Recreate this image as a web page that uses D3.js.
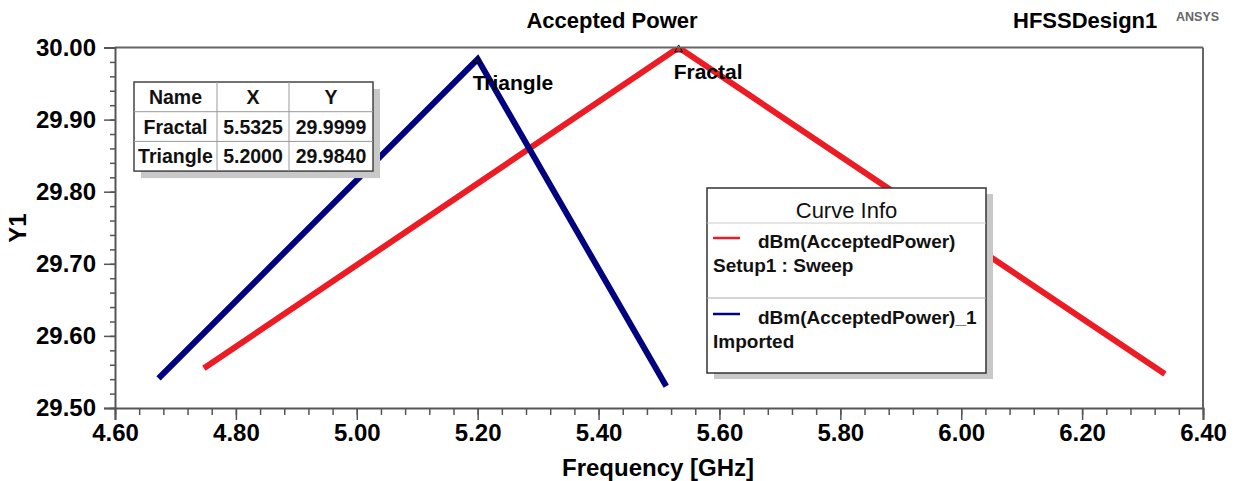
<!DOCTYPE html>
<html>
<head>
<meta charset="utf-8">
<script src="https://cdn.jsdelivr.net/npm/d3@7"></script>
<style>
  html, body { margin: 0; padding: 0; background: #fff; }
  svg { display: block; }
</style>
</head>
<body>
<svg id="chart" width="1236" height="481"></svg>
<script>
// ---- data ----
const title = "Accepted Power";
const designName = "HFSSDesign1";
const xTicks = [4.60, 4.80, 5.00, 5.20, 5.40, 5.60, 5.80, 6.00, 6.20, 6.40];
const yTicks = [29.50, 29.60, 29.70, 29.80, 29.90, 30.00];
const fractalFreq = [4.747, 5.5325, 6.337];
const fractalVal  = [29.555, 29.9999, 29.547];
const triangleFreq = [4.672, 5.20, 5.512];
const triangleVal  = [29.541, 29.984, 29.530];
const markerNames = ["Fractal", "Triangle"];
const markerX = ["5.5325", "5.2000"];
const markerY = ["29.9999", "29.9840"];
const markerFreq = [5.5325, 5.20];
const markerVal = [29.9999, 29.984];
const legendNames = ["dBm(AcceptedPower)", "dBm(AcceptedPower)_1"];
const legendSub = ["Setup1 : Sweep", "Imported"];
const colors = ["#ed1c24", "#000080"];

// ---- layout ----
const svg = d3.select("#chart");
const L = 115, R = 1203, T = 47.5, B = 408;
const x = d3.scaleLinear().domain([4.6, 6.4]).range([L, R]);
const y = d3.scaleLinear().domain([29.5, 30.0]).range([B, T]);
const AX = "Liberation Sans, Arial, sans-serif";

// title texts
svg.append("text").attr("x", 612).attr("y", 28).attr("text-anchor", "middle")
  .attr("font-family", AX).attr("font-weight", "bold").attr("font-size", 22).text(title);
svg.append("text").attr("x", 1013).attr("y", 28)
  .attr("font-family", AX).attr("font-weight", "bold").attr("font-size", 22).text(designName);
svg.append("text").attr("x", 1176).attr("y", 21)
  .attr("font-family", AX).attr("font-weight", "bold").attr("font-size", 12.5).attr("fill", "#666").text("ANSYS");

// clip
svg.append("clipPath").attr("id", "clip").append("rect")
  .attr("x", L).attr("y", T).attr("width", R - L).attr("height", B - T);

// lines
const line = d3.line().x(d => x(d[0])).y(d => y(d[1]));
const series = [
  d3.zip(fractalFreq, fractalVal),
  d3.zip(triangleFreq, triangleVal)
];
const g = svg.append("g").attr("clip-path", "url(#clip)");
series.forEach((s, i) => {
  g.append("path").datum(s).attr("d", line).attr("fill", "none")
    .attr("stroke", colors[i]).attr("stroke-width", 6).attr("stroke-linejoin", "miter");
});

// peak markers
const sym = d3.symbol().type(d3.symbolTriangle).size(28);
markerFreq.forEach((f, i) => {
  svg.append("path").attr("d", sym).attr("transform", `translate(${x(f)},${y(markerVal[i]) + 2})`)
    .attr("fill", "none").attr("stroke", "#000").attr("stroke-width", 1);
});
svg.append("text").attr("x", x(5.5325) - 5).attr("y", 79)
  .attr("font-family", AX).attr("font-weight", "bold").attr("font-size", 21).text("Fractal");
svg.append("text").attr("x", x(5.20) - 5).attr("y", 90)
  .attr("font-family", AX).attr("font-weight", "bold").attr("font-size", 21).text("Triangle");

// frame
svg.append("line").attr("x1", L).attr("x2", R).attr("y1", T).attr("y2", T).attr("stroke", "#666").attr("stroke-width", 2);
svg.append("line").attr("x1", R).attr("x2", R).attr("y1", T).attr("y2", B).attr("stroke", "#666").attr("stroke-width", 2);

// x axis
svg.append("g").attr("transform", `translate(0,${B})`)
  .call(d3.axisBottom(x).tickValues(xTicks).tickFormat(d3.format(".2f")).tickSize(12).tickPadding(4));
const xMinor = d3.range(0, 46).map(i => 4.6 + i * 0.04);
svg.append("g").attr("transform", `translate(0,${B})`)
  .call(d3.axisBottom(x).tickValues(xMinor).tickFormat("").tickSize(7))
  .select(".domain").remove();

// y axis
svg.append("g").attr("transform", `translate(${L},0)`)
  .call(d3.axisLeft(y).tickValues(yTicks).tickFormat(d3.format(".2f")).tickSize(11).tickPadding(8));
const yMinor = d3.range(0, 26).map(i => 29.5 + i * 0.02);
svg.append("g").attr("transform", `translate(${L},0)`)
  .call(d3.axisLeft(y).tickValues(yMinor).tickFormat("").tickSize(5))
  .select(".domain").remove();

svg.selectAll(".domain").attr("stroke", "#555").attr("stroke-width", 2);
svg.selectAll(".tick line").attr("stroke", "#555").attr("stroke-width", 1.5);
svg.selectAll(".tick text").attr("font-family", AX).attr("font-weight", "bold")
  .attr("font-size", 24).attr("fill", "#000");

// axis labels
svg.append("text").attr("x", 658).attr("y", 476).attr("text-anchor", "middle")
  .attr("font-family", AX).attr("font-weight", "bold").attr("font-size", 24).text("Frequency [GHz]");
svg.append("text").attr("transform", "translate(26,228) rotate(-90)").attr("text-anchor", "middle")
  .attr("font-family", AX).attr("font-weight", "bold").attr("font-size", 24).text("Y1");

// marker table
const tx = 134, ty = 82, colW = [83, 72, 84], rowH = 29.7;
const tw = d3.sum(colW), th = rowH * 3;
const tbl = svg.append("g");
tbl.append("rect").attr("x", tx + 7).attr("y", ty + 7).attr("width", tw).attr("height", th).attr("fill", "#c8c8c8");
tbl.append("rect").attr("x", tx).attr("y", ty).attr("width", tw).attr("height", th)
  .attr("fill", "#fff").attr("stroke", "#444").attr("stroke-width", 1.5);
const colX = [tx, tx + colW[0], tx + colW[0] + colW[1]];
[1, 2].forEach(c => tbl.append("line").attr("x1", colX[c]).attr("x2", colX[c]).attr("y1", ty).attr("y2", ty + th)
  .attr("stroke", "#999").attr("stroke-width", 1));
[1, 2].forEach(r => tbl.append("line").attr("x1", tx).attr("x2", tx + tw).attr("y1", ty + r * rowH).attr("y2", ty + r * rowH)
  .attr("stroke", "#999").attr("stroke-width", 1));
const rows = [["Name", "X", "Y"]].concat(markerNames.map((n, i) => [n, markerX[i], markerY[i]]));
rows.forEach((row, r) => {
  row.forEach((t, c) => {
    tbl.append("text").attr("x", colX[c] + colW[c] / 2).attr("y", ty + r * rowH + rowH / 2 + 7)
      .attr("text-anchor", "middle").attr("font-family", AX).attr("font-weight", "bold")
      .attr("font-size", 19.5).attr("fill", "#111").text(t);
  });
});

// legend
const lx = 707, ly = 188, lw = 279, lh = 185;
const leg = svg.append("g");
leg.append("rect").attr("x", lx + 7).attr("y", ly + 6).attr("width", lw).attr("height", lh).attr("fill", "#c8c8c8");
leg.append("rect").attr("x", lx).attr("y", ly).attr("width", lw).attr("height", lh)
  .attr("fill", "#fff").attr("stroke", "#333").attr("stroke-width", 1.5);
leg.append("text").attr("x", lx + lw / 2).attr("y", ly + 30).attr("text-anchor", "middle")
  .attr("font-family", AX).attr("font-size", 22).attr("fill", "#111").text("Curve Info");
leg.append("line").attr("x1", lx).attr("x2", lx + lw).attr("y1", ly + 35).attr("y2", ly + 35).attr("stroke", "#ccc");
leg.append("line").attr("x1", lx).attr("x2", lx + lw).attr("y1", ly + 110).attr("y2", ly + 110).attr("stroke", "#aaa");
legendNames.forEach((n, i) => {
  const by = ly + 50 + i * 76;
  leg.append("line").attr("x1", lx + 6).attr("x2", lx + 33).attr("y1", by).attr("y2", by)
    .attr("stroke", colors[i]).attr("stroke-width", 2.5);
  leg.append("text").attr("x", lx + 51).attr("y", by + 10).attr("font-family", AX).attr("font-weight", "bold")
    .attr("font-size", 19).attr("fill", "#111").text(n);
  leg.append("text").attr("x", lx + 6).attr("y", by + 34).attr("font-family", AX).attr("font-weight", "bold")
    .attr("font-size", 19).attr("fill", "#111").text(legendSub[i]);
});
</script>
</body>
</html>
